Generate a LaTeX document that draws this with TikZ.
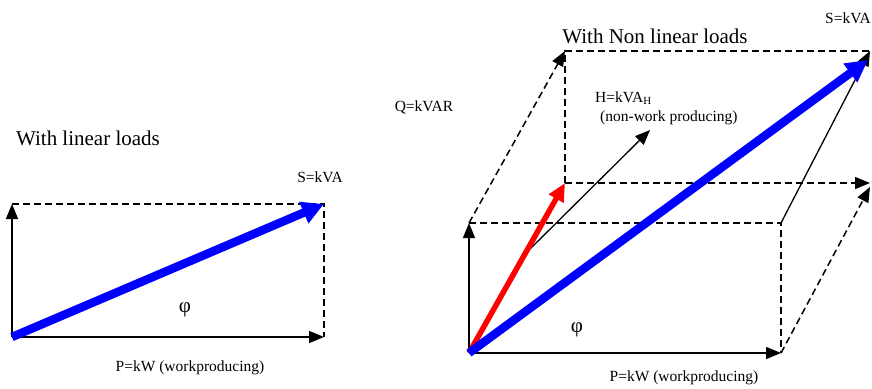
\documentclass[tikz,border=0pt]{standalone}
\usepackage{fontspec}
\setmainfont{Liberation Serif}
\usetikzlibrary{arrows.meta}
\begin{document}
\begin{tikzpicture}[x=1pt,y=-1pt,
  lbl/.style={font=\fontsize{15.5}{18}\selectfont, inner sep=0pt},
  phil/.style={font=\fontsize{21}{24}\selectfont, inner sep=0pt},
  ttl/.style={font=\fontsize{21}{25}\selectfont, inner sep=0pt},
  vec/.style={line width=1.5pt, -{Triangle[length=15pt,width=12pt]}},
  thinvec/.style={line width=1.3pt, -{Triangle[length=15pt,width=12pt]}},
  dsh/.style={line width=1.5pt, dash pattern=on 7pt off 4pt},
  dvec/.style={dsh, -{Triangle[length=15pt,width=12pt]}},
  bluevec/.style={line width=8.5pt, draw=blue, -{Triangle[length=22pt,width=22pt]}},
  redvec/.style={line width=5.5pt, draw=red, -{Triangle[length=18pt,width=16pt]}}]
\useasboundingbox (0,0) rectangle (872,388);
% ---------- left: linear loads ----------
\coordinate (O1) at (12,337);
\coordinate (A1) at (324,337);
\coordinate (B1) at (324,204);
\coordinate (Q1) at (12,204);
\draw[dsh] (Q1) -- (B1) -- (A1);
\draw[vec] (O1) -- (A1);
\draw[vec] (O1) -- (Q1);
\draw[bluevec] (O1) -- (B1);
\node[ttl] (t1) at (88,138) {With linear loads};
\node[lbl] (s1) at (320,177) {S=kVA};
\node[phil] (phi1) at (185,310) {φ};
\node[lbl] (p1) at (190,368) {P=kW (workproducing)};
% ---------- right: non linear loads ----------
\coordinate (O2) at (469,353);
\coordinate (A2) at (781,353);
\coordinate (B2) at (781,223);
\coordinate (Q2) at (469,223);
\coordinate (BO) at (565,183);
\coordinate (BQ) at (565,51);
\coordinate (BB) at (870,51);
\coordinate (BTE) at (872,51);
\coordinate (BA) at (870,183);
\coordinate (BAd) at (870,187);
\coordinate (BS) at (868,60);
\coordinate (H1) at (530,249);
\coordinate (H2) at (650,130);
\draw[dsh] (Q2) -- (B2) -- (A2);
\draw[dsh] (BO) -- (BQ) -- (BTE);
\draw[dvec] (BO) -- (BA);
\draw[dvec] (Q2) -- (BQ);
\draw[dvec] (A2) -- (BAd);
\draw[vec] (O2) -- (A2);
\draw[vec] (O2) -- (Q2);
\draw[thinvec] (B2) -- (BB);
\draw[thinvec] (H1) -- (H2);
\draw[redvec] (O2) -- (BO);
\draw[bluevec] (O2) -- (BS);
\node[ttl] (t2) at (655,36) {With Non linear loads};
\node[lbl, anchor=west] (s2) at (825,18) {S=kVA};
\node[lbl] (q2) at (424,107) {Q=kVAR};
\node[lbl, anchor=west] (h2) at (595,98) {H=kVA\textsubscript{H}};
\node[lbl, anchor=west] (h2b) at (600,118) {(non-work producing)};
\node[phil] (phi2) at (577,330) {φ};
\node[lbl] (p2) at (684,378) {P=kW (workproducing)};
\end{tikzpicture}
\end{document}
